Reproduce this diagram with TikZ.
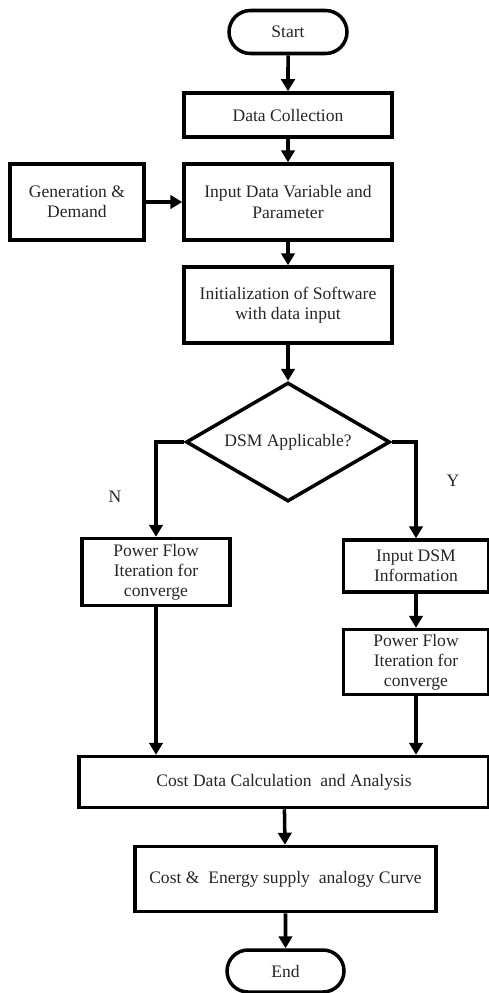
\documentclass[tikz,border=0pt]{standalone}
\usepackage{fontspec}
\setmainfont{Liberation Serif}
\usepackage{tikz}
\usetikzlibrary{shapes,arrows.meta,calc}

\tikzset{
  box/.style={draw,line width=2pt,rectangle,align=center,inner sep=2pt,text=black!85},
  term/.style={draw,line width=2pt,rounded rectangle,text=black!85,inner sep=0pt},
  decide/.style={draw,line width=2pt,diamond,aspect=1.7,inner sep=1pt,text=black!85},
  arr/.style={line width=2pt,-{Triangle[length=0.24cm,width=0.27cm]}},
}

\begin{document}
\begin{tikzpicture}[x=0.02cm,y=-0.02cm,font=\fontsize{10}{11.5}\selectfont]
\useasboundingbox (0,0) rectangle (489,993);

% main column
\node[term,minimum width=2.36cm,minimum height=0.86cm] (start) at (288,32) {Start};
\node[box,minimum width=4.16cm,minimum height=0.88cm] (collect) at (288,115) {Data Collection};
\node[box,minimum width=2.68cm,minimum height=1.52cm] (gen) at (77,202) {Generation \&\\Demand};
\node[box,minimum width=4.16cm,minimum height=1.52cm] (input) at (288,202) {Input Data Variable and\\Parameter};
\node[box,minimum width=4.16cm,minimum height=1.52cm] (init) at (288,305) {Initialization of Software\\with data input};
\node[decide,minimum width=4.08cm,minimum height=2.38cm] (dsm) at (288,442) {DSM Applicable?};

% the two branches
\node[box,minimum width=2.96cm,minimum height=1.34cm] (pfl) at (156,572) {Power Flow\\Iteration for\\converge};
\node[box,minimum width=2.9cm,minimum height=1.04cm] (dsmin) at (416,566) {Input DSM\\Information};
\node[box,minimum width=2.9cm,minimum height=1.3cm] (pfr) at (416,662) {Power Flow\\Iteration for\\converge};
\node[text=black!85] (no) at (115,497) {N};
\node[text=black!85] (yes) at (453,481) {Y};

% bottom
\node[box,minimum width=8.2cm,minimum height=1.02cm] (cost) at (284,782) {Cost Data Calculation\ \ and Analysis};
\node[box,minimum width=6.02cm,minimum height=1.3cm] (curve) at (285.5,879) {Cost \&\ \ Energy supply\ \ analogy Curve};
\node[term,minimum width=2.34cm,minimum height=0.84cm] (stop) at (285.5,971) {End};

\foreach \a/\b in {start/collect,collect/input,gen/input,input/init,init/dsm,dsmin/pfr,cost/curve,curve/stop}
  \draw[arr] (\a) -- (\b);
\draw[arr] (dsm.west) -| (pfl.north);
\draw[arr] (dsm.east) -| (dsmin.north);
\draw[arr] (pfl.south) -- (pfl.south |- cost.north);
\draw[arr] (pfr.south) -- (pfr.south |- cost.north);
\end{tikzpicture}
\end{document}
